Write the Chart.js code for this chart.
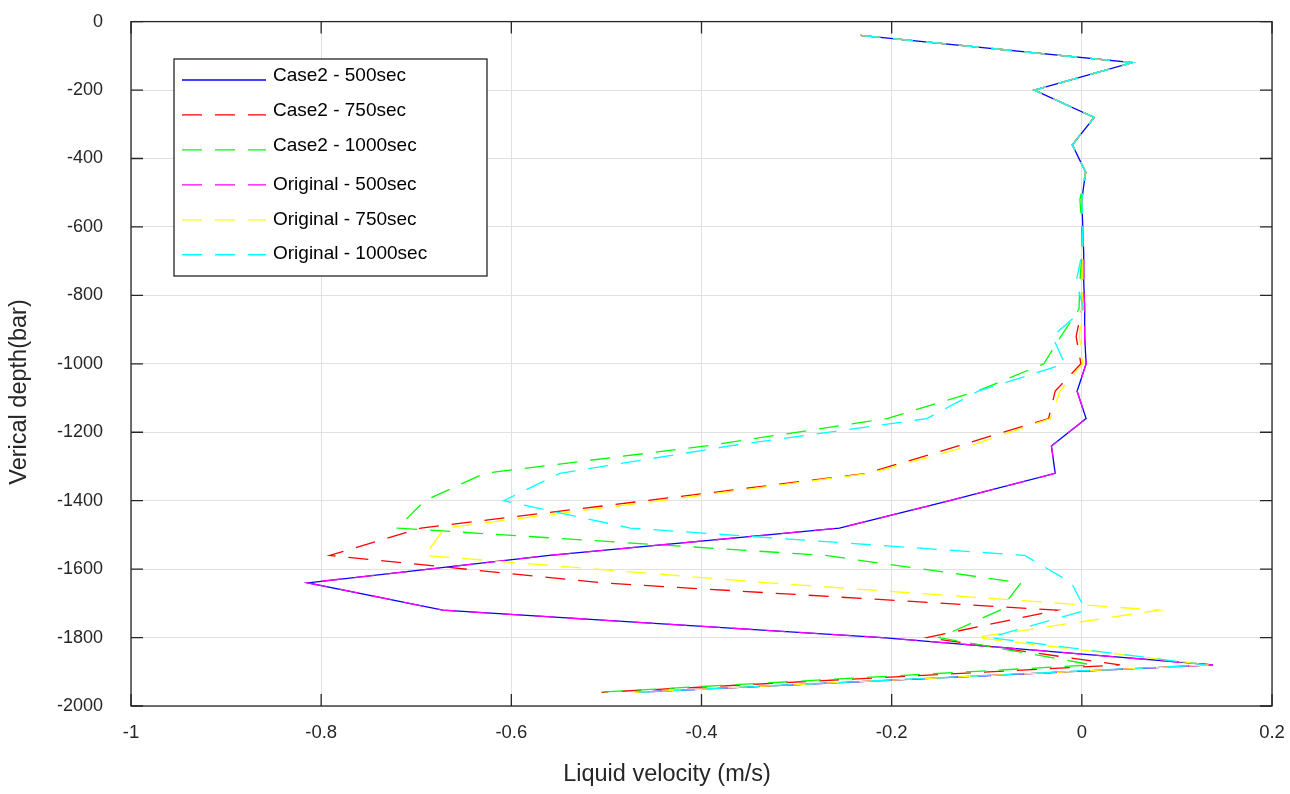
<!DOCTYPE html>
<html>
<head>
<meta charset="utf-8">
<script src="https://cdn.jsdelivr.net/npm/chart.js@4.4.0/dist/chart.umd.min.js"></script>
<style>
  html, body { margin: 0; padding: 0; background: #fff; }
  #wrap { width: 1290px; height: 794px; position: relative; }
</style>
</head>
<body>
<div id="wrap"><canvas id="myChart"></canvas></div>
<script>
// depth of each sample (bar)
var depth = [-40, -120, -200, -280, -360, -440, -520, -600, -680, -760, -840, -920, -1000,
             -1080, -1160, -1240, -1320, -1400, -1480, -1560, -1640, -1720, -1800, -1880, -1960];

// liquid velocity (m/s) at each depth
var case2_500 = [-0.233, 0.053, -0.050, 0.013, -0.010, 0.004, 0.000, 0.001, 0.002, 0.002, 0.003, 0.003, 0.0045,
                 -0.005, 0.0045, -0.032, -0.028, -0.139, -0.255, -0.560, -0.814, -0.672, -0.210, 0.138, -0.470];
var case2_750 = [-0.233, 0.053, -0.050, 0.013, -0.010, 0.004, 0.000, 0.000, 0.001, 0.001, 0.000, -0.006, -0.001,
                 -0.028, -0.035, -0.130, -0.226, -0.458, -0.695, -0.791, -0.505, -0.026, -0.163, 0.040, -0.505];
var case2_1000 = [-0.233, 0.053, -0.050, 0.013, -0.010, 0.004, -0.002, 0.000, 0.000, -0.002, -0.003, -0.022, -0.040,
                  -0.110, -0.205, -0.395, -0.628, -0.691, -0.720, -0.270, -0.064, -0.086, -0.150, 0.011, -0.510];
var original_500 = [-0.233, 0.053, -0.050, 0.013, -0.010, 0.004, 0.000, 0.001, 0.002, 0.002, 0.003, 0.003, 0.0045,
                    -0.005, 0.0045, -0.032, -0.028, -0.139, -0.255, -0.560, -0.814, -0.672, -0.210, 0.138, -0.470];
var original_750 = [-0.233, 0.053, -0.050, 0.013, -0.010, 0.004, 0.000, 0.001, 0.001, 0.001, 0.000, -0.0025, 0.001,
                    -0.023, -0.033, -0.118, -0.223, -0.444, -0.670, -0.691, -0.330, 0.081, -0.112, 0.135, -0.470];
var original_1000 = [-0.233, 0.053, -0.050, 0.013, -0.010, 0.004, 0.000, 0.001, 0.000, -0.006, 0.002, -0.031, -0.018,
                     -0.109, -0.163, -0.370, -0.549, -0.608, -0.475, -0.060, -0.011, 0.004, -0.097, 0.130, -0.470];

var seriesNames = ['Case2 - 500sec', 'Case2 - 750sec', 'Case2 - 1000sec',
                   'Original - 500sec', 'Original - 750sec', 'Original - 1000sec'];
var seriesColors = ['#0000ff', '#ff0000', '#00ff00', '#ff00ff', '#ffff00', '#00ffff'];
var seriesValues = [case2_500, case2_750, case2_1000, original_500, original_750, original_1000];

var xTicks = [-1, -0.8, -0.6, -0.4, -0.2, 0, 0.2];
var xTickLabels = ['-1', '-0.8', '-0.6', '-0.4', '-0.2', '0', '0.2'];
var yTicks = [0, -200, -400, -600, -800, -1000, -1200, -1400, -1600, -1800, -2000];
var yTickLabels = ['0', '-200', '-400', '-600', '-800', '-1000', '-1200', '-1400', '-1600', '-1800', '-2000'];

var FONT = '"Liberation Sans", Arial, Helvetica, sans-serif';
var DASH = [20, 13];

var datasets = seriesValues.map(function(vals, i) {
  return {
    label: seriesNames[i],
    data: vals.map(function(v, j) { return {x: v, y: depth[j]}; }),
    borderColor: seriesColors[i],
    backgroundColor: seriesColors[i],
    borderWidth: 1.3,
    borderDash: i === 0 ? [] : DASH,
    showLine: true,
    pointRadius: 0,
    tension: 0,
    order: seriesValues.length - i
  };
});

// frame, inward ticks, axis titles and boxed legend
var framePlugin = {
  id: 'frame',
  afterDraw: function(chart) {
    var ctx = chart.ctx, a = chart.chartArea;
    var xs = chart.scales.x, ys = chart.scales.y;
    ctx.save();
    ctx.strokeStyle = '#262626';
    ctx.lineWidth = 1.3;
    ctx.beginPath();
    xTicks.forEach(function(t) {
      var px = xs.getPixelForValue(t);
      ctx.moveTo(px, a.bottom); ctx.lineTo(px, a.bottom - 12);
      ctx.moveTo(px, a.top); ctx.lineTo(px, a.top + 12);
    });
    yTicks.forEach(function(t) {
      var py = ys.getPixelForValue(t);
      ctx.moveTo(a.left, py); ctx.lineTo(a.left + 12, py);
      ctx.moveTo(a.right, py); ctx.lineTo(a.right - 12, py);
    });
    ctx.stroke();
    ctx.strokeRect(a.left, a.top, a.right - a.left, a.bottom - a.top);

    // axis titles
    ctx.fillStyle = '#262626';
    ctx.font = '23.5px ' + FONT;
    ctx.textAlign = 'center';
    ctx.textBaseline = 'middle';
    ctx.fillText('Liquid velocity (m/s)', 667, 775);
    ctx.save();
    ctx.translate(20, 392);
    ctx.rotate(-Math.PI / 2);
    ctx.fillText('Verical depth(bar)', 0, 0);
    ctx.restore();

    // legend
    var lx = 174, ly = 59, lw = 313, lh = 217;
    ctx.fillStyle = '#ffffff';
    ctx.fillRect(lx, ly, lw, lh);
    ctx.strokeStyle = '#262626';
    ctx.lineWidth = 1.3;
    ctx.strokeRect(lx, ly, lw, lh);
    ctx.font = '19px ' + FONT;
    ctx.textAlign = 'left';
    chart.data.datasets.forEach(function(ds, i) {
      var ry = 80 + i * 34.95;
      ctx.strokeStyle = ds.borderColor;
      ctx.lineWidth = 1.3;
      ctx.setLineDash(ds.borderDash);
      ctx.beginPath();
      ctx.moveTo(182, ry); ctx.lineTo(266, ry);
      ctx.stroke();
      ctx.setLineDash([]);
      ctx.fillStyle = '#000000';
      ctx.fillText(ds.label, 273, i < 3 ? ry - 4.5 : ry - 0.5);
    });
    ctx.restore();
  }
};

// keep the tick labels from pushing the plot area inwards
function noScalePadding(scale) {
  scale.paddingTop = 0;
  scale.paddingBottom = 0;
  scale.paddingLeft = 0;
  scale.paddingRight = 0;
}

var ctxDir = document.getElementById('myChart');
var depthChart = new Chart(ctxDir, {
  type: 'scatter',
  data: { datasets: datasets },
  plugins: [framePlugin],
  options: {
    responsive: true,
    maintainAspectRatio: false,
    animation: false,
    layout: { padding: { left: 0, top: 21.6, right: 18, bottom: 0 } },
    plugins: {
      legend: { display: false },
      tooltip: { enabled: false }
    },
    scales: {
      x: {
        type: 'linear',
        min: -1,
        max: 0.2,
        afterFit: function(scale) { scale.height = 88; noScalePadding(scale); },
        afterBuildTicks: function(scale) {
          scale.ticks = xTicks.map(function(v) { return {value: v}; });
        },
        grid: { color: '#e0e0e0', lineWidth: 1, drawTicks: false },
        border: { display: false },
        ticks: {
          padding: 16,
          color: '#262626',
          font: { family: FONT, size: 18.5 },
          callback: function(value, index) { return xTickLabels[index]; }
        }
      },
      y: {
        type: 'linear',
        min: -2000,
        max: 0,
        afterFit: function(scale) { scale.width = 131; noScalePadding(scale); },
        afterBuildTicks: function(scale) {
          scale.ticks = yTicks.map(function(v) { return {value: v}; });
        },
        grid: { color: '#e0e0e0', lineWidth: 1, drawTicks: false },
        border: { display: false },
        ticks: {
          padding: 28,
          color: '#262626',
          font: { family: FONT, size: 18 },
          callback: function(value, index) { return yTickLabels[index]; }
        }
      }
    }
  }
});
</script>
</body>
</html>
